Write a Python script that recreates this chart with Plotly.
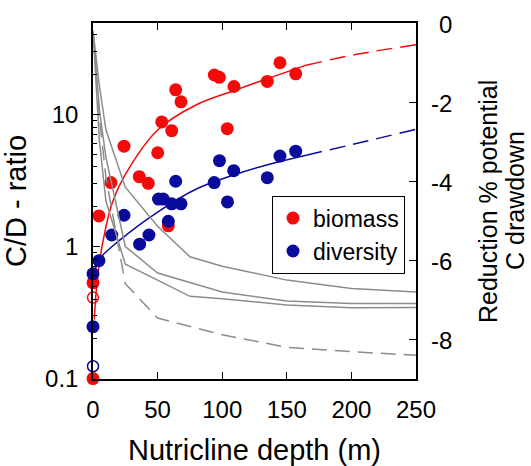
import plotly.graph_objects as go

# measured data (nutricline depth in m, C/D ratio)
bio_x = [4.6, 13.9, 24.0, 35.8, 42.8, 50.1, 53.2, 60.9, 64.0, 68.1, 93.9, 97.8,
         103.9, 109.1, 134.9, 144.7, 156.9, 58.3, 0, 0]
bio_y = [1.70, 3.04, 5.73, 3.37, 3.00, 5.11, 8.74, 7.51, 15.3, 12.4, 19.8, 19.0,
         7.78, 16.2, 17.7, 24.5, 20.2, 1.43, 0.53, 0.1]
bio_open_x = [0]
bio_open_y = [0.41]

div_x = [0, 0, 4.6, 14.5, 24.0, 36.1, 43.3, 50.7, 54.4, 58.3, 60.9, 68.1, 64.0,
         93.8, 97.9, 104.1, 108.9, 134.9, 144.7, 156.9]
div_y = [0.62, 0.247, 0.78, 1.22, 1.72, 1.04, 1.22, 2.28, 2.28, 1.55, 2.10, 2.10,
         3.11, 3.04, 4.45, 2.17, 3.74, 3.31, 4.82, 5.25]
div_open_x = [0]
div_open_y = [0.124]

# fitted curves (solid over data, dashed extrapolation)
bio_fit_x = [1, 3, 7, 15, 25, 50, 80, 110, 135, 165]
bio_fit_y = [0.28, 0.52, 1.0, 2.15, 3.5, 7.6, 11.8, 15.2, 18.6, 23.5]
bio_ext_x = [165, 205, 250]
bio_ext_y = [23.5, 28.5, 33.5]

div_fit_x = [1, 5, 20, 50, 80, 110, 135, 165]
div_fit_y = [0.62, 0.8, 1.1, 1.82, 2.72, 3.5, 4.15, 4.9]
div_ext_x = [165, 207, 250]
div_ext_y = [4.9, 6.1, 7.7]

# reduction % potential C drawdown (right axis)
red_a_x = [0, 5, 10, 25, 50, 75, 100, 150, 200, 250]
red_a_y = [-0.2, -1.6, -2.7, -4.15, -5.14, -5.91, -6.15, -6.50, -6.71, -6.80]
red_b_x = [0, 5, 10, 25, 50, 100, 150, 200, 250]
red_b_y = [-0.2, -2.2, -3.4, -5.65, -6.32, -6.80, -7.03, -7.09, -7.09]
red_c_x = [0, 5, 10, 25, 50, 75, 100, 150, 200, 250]
red_c_y = [-0.2, -3.0, -4.5, -6.1, -6.5, -6.91, -6.97, -7.13, -7.20, -7.19]
red_d_x = [0, 5, 10, 25, 50, 100, 150, 200, 250]
red_d_y = [-0.2, -2.4, -3.9, -6.59, -7.46, -7.88, -8.20, -8.31, -8.40]

right_ticks = [0, -2, -4, -6, -8]
right_title = ["Reduction % potential", "C drawdown"]

RED = "#f50a0a"
BLUE = "#0a0a9c"
GREY = "#8c8c8c"
FONT = "Liberation Sans, Arial, sans-serif"
DASH = "16px,8px"

fig = go.Figure()

for gx, gy, dash in [(red_a_x, red_a_y, "solid"), (red_b_x, red_b_y, "solid"),
                     (red_c_x, red_c_y, "solid"), (red_d_x, red_d_y, "15px,8px")]:
    fig.add_trace(go.Scatter(x=gx, y=gy, yaxis="y2", mode="lines",
                             line=dict(color=GREY, width=1.5, dash=dash),
                             showlegend=False, hoverinfo="skip"))

fig.add_trace(go.Scatter(x=bio_fit_x, y=bio_fit_y, mode="lines",
                         line=dict(color=RED, width=1.5, shape="spline"), showlegend=False))
fig.add_trace(go.Scatter(x=bio_ext_x, y=bio_ext_y, mode="lines",
                         line=dict(color=RED, width=1.5, dash=DASH, shape="spline"),
                         showlegend=False))
fig.add_trace(go.Scatter(x=div_fit_x, y=div_fit_y, mode="lines",
                         line=dict(color=BLUE, width=1.5, shape="spline"), showlegend=False))
fig.add_trace(go.Scatter(x=div_ext_x, y=div_ext_y, mode="lines",
                         line=dict(color=BLUE, width=1.5, dash=DASH, shape="spline"),
                         showlegend=False))

fig.add_trace(go.Scatter(x=bio_open_x, y=bio_open_y, mode="markers", cliponaxis=False,
                         marker=dict(symbol="circle-open", size=11, color=RED, line=dict(width=1.5)),
                         showlegend=False))
fig.add_trace(go.Scatter(x=div_open_x, y=div_open_y, mode="markers", cliponaxis=False,
                         marker=dict(symbol="circle-open", size=11, color=BLUE, line=dict(width=1.5)),
                         showlegend=False))
fig.add_trace(go.Scatter(x=bio_x, y=bio_y, mode="markers", name="biomass", cliponaxis=False,
                         marker=dict(size=13, color=RED)))
fig.add_trace(go.Scatter(x=div_x, y=div_y, mode="markers", name="diversity", cliponaxis=False,
                         marker=dict(size=13, color=BLUE)))

# right-axis tick labels, right-aligned like the original
for v in right_ticks:
    fig.add_annotation(x=(454 - 93) / 323, xref="paper", y=v, yref="y2", text=str(v),
                       xanchor="right", yanchor="middle", showarrow=False, yshift=-1,
                       font=dict(size=24, color="black", family=FONT))

# two-line right axis title
for line, px in zip(right_title, [488, 515]):
    fig.add_annotation(x=(px - 93) / 323, xref="paper", y=0.5, yref="paper", text=line,
                       textangle=-90, xanchor="center", yanchor="middle", showarrow=False,
                       font=dict(size=25, color="black", family=FONT))

minor_vals = [m * d for d in (0.1, 1, 10) for m in range(2, 10)]

fig.update_layout(
    width=531, height=466,
    margin=dict(l=93, r=115, t=23, b=87),
    paper_bgcolor="white", plot_bgcolor="white",
    font=dict(family=FONT, size=24, color="black"),
    xaxis=dict(range=[0, 250], tickvals=[0, 50, 100, 150, 200, 250],
               ticks="inside", ticklen=7, tickwidth=1.3, tickcolor="black",
               showline=True, linecolor="black", linewidth=1.5, mirror="ticks",
               showgrid=False, zeroline=False, ticklabelstandoff=8, automargin=False,
               title=dict(text="Nutricline depth (m)", standoff=25)),
    yaxis=dict(type="log", range=[-1.003, 1.69], tickvals=[0.1, 1, 10],
               ticktext=["0.1", "1", "10"],
               ticks="inside", ticklen=7, tickwidth=1.3, tickcolor="black",
               minor=dict(tickvals=minor_vals, ticks="inside", ticklen=4,
                          tickwidth=1, tickcolor="black", showgrid=False),
               showline=True, linecolor="black", linewidth=1.5, automargin=False,
               showgrid=False, zeroline=False, ticklabelstandoff=8,
               title=dict(text="C/D - ratio", standoff=10)),
    yaxis2=dict(overlaying="y", side="right", range=[-9, 0],
                tickvals=right_ticks, showticklabels=False,
                ticks="inside", ticklen=7, tickwidth=1.3, tickcolor="black",
                showline=True, linecolor="black", linewidth=1.5, automargin=False,
                showgrid=False, zeroline=False),
    legend=dict(x=(272 - 93) / 323, y=0.515, xanchor="left", yanchor="top",
                bgcolor="white", bordercolor="black", borderwidth=1,
                font=dict(size=23), itemwidth=30, tracegroupgap=0,
                traceorder="normal"),
    showlegend=True,
)

fig.write_html("out.html", config={"displayModeBar": False},
               post_script="document.body.style.margin='0';")
